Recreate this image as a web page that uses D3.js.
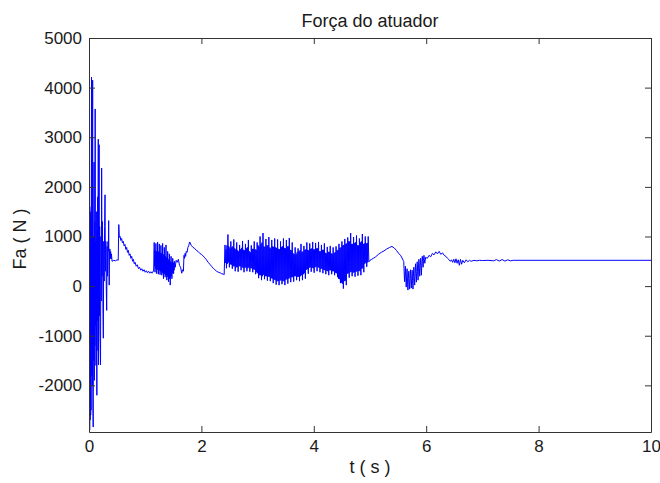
<!DOCTYPE html>
<html>
<head>
<meta charset="utf-8">
<script src="https://cdn.jsdelivr.net/npm/d3@7"></script>
<style>
  body { margin: 0; background: #fff; }
  text { font-family: "Liberation Sans", Arial, sans-serif; fill: #1a1a1a; }
</style>
</head>
<body>
<div id="chart"></div>
<script>
// axis ticks
const xTicks = [0, 2, 4, 6, 8, 10];
const yTicks = [-2000, -1000, 0, 1000, 2000, 3000, 4000, 5000];

// [t (s), Fa (N)], segment by segment
const startup = [
  [0.000, 4740], [0.003, -2940], [0.006, 1670], [0.008, -2800], [0.010, 1200],
  [0.012, -2900], [0.014, 1600], [0.016, -2600], [0.018, 1300], [0.020, -2700],
  [0.022, 1500], [0.025, -2500], [0.027, 1100], [0.030, -2600], [0.032, 1400],
  [0.034, -2300], [0.036, -2500], [0.039, 900], [0.041, 2000], [0.045, 4210],
  [0.048, -1200], [0.050, -1800], [0.053, 900], [0.055, 1200], [0.058, -1700],
  [0.060, -2000], [0.065, 4150], [0.068, -1500], [0.070, -2400], [0.075, -2840],
  [0.078, 800], [0.080, 1000], [0.083, -1200], [0.085, -1500], [0.088, 1500],
  [0.090, 2500], [0.093, -1000], [0.095, -1900], [0.098, 700], [0.100, 1300],
  [0.103, -900], [0.105, -1200], [0.110, 3570], [0.113, -300], [0.115, -800],
  [0.118, 600], [0.120, 900], [0.123, -1100], [0.125, -1600], [0.128, 1000],
  [0.130, 1500], [0.133, -600], [0.135, -1000], [0.140, -2200], [0.145, 1100],
  [0.150, -700], [0.155, 1800], [0.160, -1300], [0.165, 2960], [0.170, -1590],
  [0.175, 800], [0.180, 2850], [0.185, -600], [0.190, 1200], [0.195, -900],
  [0.205, -1590], [0.212, 1000], [0.218, -300], [0.225, 2380], [0.232, 200],
  [0.240, 1300], [0.248, -400], [0.255, -1050], [0.262, 900], [0.270, 100],
  [0.278, 1200], [0.285, 1840], [0.292, 300], [0.300, 900], [0.308, -100],
  [0.315, -490], [0.322, 800], [0.330, 200], [0.338, 900], [0.345, 700],
  [0.350, 1320], [0.355, 400], [0.360, 20], [0.365, 700], [0.372, 750],
  [0.378, 550], [0.385, 700], [0.392, 550], [0.400, 650], [0.410, 500],
  [0.440, 520], [0.470, 510], [0.500, 530], [0.520, 520]
];

const decay = [
  [0.530, 1240], [0.540, 980], [0.555, 1000], [0.565, 920], [0.580, 960],
  [0.595, 870], [0.610, 900], [0.625, 810], [0.640, 840], [0.655, 740],
  [0.670, 780], [0.685, 680], [0.700, 720], [0.715, 620], [0.730, 650],
  [0.745, 560], [0.760, 600], [0.775, 500], [0.790, 540], [0.805, 450],
  [0.820, 480], [0.840, 400], [0.860, 430], [0.880, 350], [0.900, 380],
  [0.920, 320], [0.940, 350], [0.960, 300], [0.980, 330], [1.000, 280],
  [1.020, 310], [1.040, 270], [1.060, 300], [1.080, 260], [1.100, 290],
  [1.120, 260], [1.140, 300]
];

const burstA = [
  [1.150, 300], [1.160, 880], [1.166, 400], [1.170, 720], [1.175, 280], [1.180, 700],
  [1.185, 360], [1.190, 860], [1.196, 350], [1.200, 700], [1.205, 250], [1.210, 690],
  [1.215, 330], [1.220, 890], [1.226, 340], [1.230, 700], [1.235, 240], [1.240, 680],
  [1.245, 320], [1.250, 850], [1.256, 320], [1.260, 680], [1.265, 230], [1.270, 660],
  [1.275, 300], [1.280, 820], [1.286, 300], [1.290, 660], [1.295, 220], [1.300, 650],
  [1.305, 280], [1.310, 860], [1.316, 260], [1.320, 640], [1.325, 150], [1.330, 620],
  [1.335, 250], [1.340, 780], [1.346, 250], [1.350, 600], [1.355, 180], [1.360, 600],
  [1.365, 230], [1.370, 830], [1.376, 220], [1.380, 580], [1.385, 120], [1.390, 560],
  [1.395, 200], [1.400, 700], [1.406, 180], [1.410, 540], [1.415, 90], [1.420, 520],
  [1.425, 170], [1.430, 650], [1.436, 150], [1.440, 500], [1.445, 20], [1.450, 480],
  [1.455, 200], [1.460, 600], [1.466, 210], [1.470, 480], [1.475, 150], [1.480, 470],
  [1.485, 260], [1.490, 560], [1.496, 280], [1.500, 470], [1.505, 250], [1.510, 470],
  [1.515, 320], [1.520, 500], [1.535, 380]
];

const ramp = [
  [1.550, 520], [1.570, 480], [1.590, 540], [1.610, 420], [1.630, 380],
  [1.650, 260], [1.665, 330], [1.680, 300], [1.690, 620], [1.700, 560],
  [1.710, 660], [1.720, 600], [1.730, 700], [1.745, 680], [1.760, 780],
  [1.775, 820], [1.790, 890], [1.800, 870], [1.820, 820], [1.850, 780],
  [1.880, 760], [1.910, 720], [1.940, 700], [1.970, 660], [2.000, 640],
  [2.030, 610], [2.060, 570], [2.090, 530], [2.120, 480], [2.150, 440],
  [2.180, 400], [2.210, 360], [2.240, 330], [2.270, 300], [2.300, 280],
  [2.330, 270], [2.360, 250], [2.390, 240], [2.405, 230]
];

const burstB = [
  [2.420, 830], [2.429, 470], [2.437, 740], [2.446, 360], [2.455, 820], [2.463, 450],
  [2.472, 1040], [2.481, 480], [2.489, 800], [2.498, 380], [2.507, 760], [2.515, 440],
  [2.524, 900], [2.533, 430], [2.541, 780], [2.550, 350], [2.559, 800], [2.567, 400],
  [2.576, 940], [2.585, 400], [2.593, 760], [2.602, 300], [2.611, 740], [2.619, 380],
  [2.628, 880], [2.637, 380], [2.645, 720], [2.654, 290], [2.663, 700], [2.671, 400],
  [2.680, 830], [2.689, 400], [2.697, 740], [2.706, 320], [2.715, 770], [2.723, 380],
  [2.732, 910], [2.741, 370], [2.749, 730], [2.758, 280], [2.767, 720], [2.775, 370],
  [2.784, 850], [2.793, 380], [2.801, 760], [2.810, 300], [2.819, 780], [2.827, 360],
  [2.836, 930], [2.845, 380], [2.853, 700], [2.862, 290], [2.871, 680], [2.879, 360],
  [2.888, 820], [2.897, 360], [2.905, 750], [2.914, 280], [2.923, 750], [2.931, 340],
  [2.940, 900], [2.949, 330], [2.957, 740], [2.966, 240], [2.975, 730], [2.983, 280],
  [2.992, 880], [3.001, 260], [3.009, 820], [3.018, 160], [3.027, 800], [3.035, 220],
  [3.044, 1000], [3.053, 220], [3.061, 850], [3.070, 120], [3.079, 880], [3.087, 200],
  [3.096, 1070], [3.105, 230], [3.113, 800], [3.122, 140], [3.131, 790], [3.139, 200],
  [3.148, 950], [3.157, 200], [3.165, 820], [3.174, 110], [3.183, 820], [3.191, 190],
  [3.200, 990], [3.209, 190], [3.217, 780], [3.226, 100], [3.235, 760], [3.243, 160],
  [3.252, 930], [3.261, 150], [3.269, 800], [3.278, 60], [3.287, 790], [3.295, 130],
  [3.304, 960], [3.313, 120], [3.321, 780], [3.330, 30], [3.339, 770], [3.347, 100],
  [3.356, 940], [3.365, 100], [3.373, 750], [3.382, 20], [3.391, 740], [3.399, 110],
  [3.408, 900], [3.417, 120], [3.425, 790], [3.434, 40], [3.443, 800], [3.451, 100],
  [3.460, 960], [3.469, 100], [3.477, 770], [3.486, 20], [3.495, 760], [3.503, 130],
  [3.512, 930], [3.521, 140], [3.529, 800], [3.538, 50], [3.547, 800], [3.555, 150],
  [3.564, 970], [3.573, 170], [3.581, 730], [3.590, 80], [3.599, 720], [3.607, 180],
  [3.616, 880], [3.625, 180], [3.633, 660], [3.642, 90], [3.651, 640], [3.659, 200],
  [3.668, 780], [3.677, 200], [3.685, 640], [3.694, 120], [3.703, 680], [3.711, 190],
  [3.720, 760], [3.729, 190], [3.737, 700], [3.746, 100], [3.755, 720], [3.763, 200],
  [3.772, 850], [3.781, 220], [3.789, 680], [3.798, 120], [3.807, 700], [3.815, 240],
  [3.824, 810], [3.833, 260], [3.841, 730], [3.850, 150], [3.859, 740], [3.867, 330],
  [3.876, 880], [3.885, 340], [3.893, 730], [3.902, 250], [3.911, 720], [3.919, 370],
  [3.928, 860], [3.937, 380], [3.945, 750], [3.954, 290], [3.963, 760], [3.971, 370],
  [3.980, 890], [3.989, 360], [3.997, 740], [4.006, 270], [4.015, 740], [4.023, 380],
  [4.032, 870], [4.041, 390], [4.049, 760], [4.058, 300], [4.067, 760], [4.075, 380],
  [4.084, 890], [4.093, 370], [4.101, 700], [4.110, 280], [4.119, 700], [4.127, 350],
  [4.136, 830], [4.145, 350], [4.153, 730], [4.162, 260], [4.171, 730], [4.179, 330],
  [4.188, 860], [4.197, 320], [4.205, 670], [4.214, 240], [4.223, 660], [4.231, 310],
  [4.240, 790], [4.249, 300], [4.257, 690], [4.266, 220], [4.275, 690], [4.283, 320],
  [4.292, 810], [4.301, 320], [4.309, 660], [4.318, 240], [4.327, 650], [4.335, 300],
  [4.344, 780], [4.353, 300], [4.361, 670], [4.370, 220], [4.379, 680], [4.387, 270],
  [4.396, 800], [4.405, 260], [4.413, 720], [4.422, 180], [4.431, 730], [4.439, 150],
  [4.448, 850], [4.457, 140], [4.465, 770], [4.474, 60], [4.483, 780], [4.491, 70],
  [4.500, 900], [4.509, 50], [4.517, 820], [4.526, -50], [4.535, 830], [4.543, 100],
  [4.552, 950], [4.561, 110], [4.569, 850], [4.578, 20], [4.587, 860], [4.595, 250],
  [4.604, 980], [4.613, 260], [4.621, 900], [4.630, 170], [4.639, 900], [4.647, 280],
  [4.656, 1070], [4.665, 290], [4.673, 850], [4.682, 200], [4.691, 850], [4.699, 270],
  [4.708, 990], [4.717, 280], [4.725, 870], [4.734, 190], [4.743, 880], [4.751, 290],
  [4.760, 1020], [4.769, 300], [4.777, 820], [4.786, 210], [4.795, 820], [4.803, 300],
  [4.812, 960], [4.821, 310], [4.829, 880], [4.838, 220], [4.847, 900], [4.855, 350],
  [4.864, 1050], [4.873, 360], [4.881, 850], [4.890, 280], [4.899, 860], [4.907, 450],
  [4.916, 1000], [4.925, 470], [4.933, 860], [4.942, 390], [4.951, 870], [4.959, 480],
  [4.968, 1000], [4.980, 490]
];

const hump = [
  [5.000, 520], [5.030, 540], [5.060, 560], [5.100, 590], [5.150, 640],
  [5.200, 680], [5.250, 710], [5.300, 750], [5.350, 780], [5.390, 800],
  [5.430, 770], [5.470, 720], [5.510, 660], [5.550, 610], [5.590, 520]
];

const dip = [
  [5.600, 500], [5.607, 300], [5.615, 90], [5.622, 250], [5.630, 400], [5.637, 150],
  [5.645, -20], [5.652, 200], [5.660, 350], [5.667, 100], [5.675, -80], [5.682, 150],
  [5.690, 300], [5.697, 100], [5.705, -60], [5.712, 150], [5.720, 330], [5.727, 120],
  [5.735, -40], [5.742, 150], [5.750, 320], [5.757, 120], [5.765, -60], [5.772, 200],
  [5.780, 380], [5.787, 180], [5.795, 20], [5.802, 250], [5.810, 450], [5.817, 250],
  [5.825, 80], [5.832, 300], [5.840, 490], [5.847, 300], [5.855, 120], [5.862, 350],
  [5.870, 540], [5.877, 380], [5.885, 200], [5.892, 400], [5.900, 560], [5.907, 400],
  [5.915, 220], [5.922, 450], [5.930, 600], [5.937, 500], [5.945, 380], [5.952, 520],
  [5.960, 620], [5.967, 540], [5.975, 460], [5.990, 580]
];

const settle = [
  [6.020, 560], [6.050, 620], [6.080, 590], [6.110, 660], [6.140, 630],
  [6.170, 690], [6.200, 650], [6.230, 700], [6.260, 640], [6.290, 670],
  [6.320, 620], [6.350, 600], [6.380, 560], [6.400, 540], [6.430, 500],
  [6.450, 530], [6.470, 480], [6.490, 540], [6.510, 470], [6.530, 550],
  [6.550, 460], [6.570, 530], [6.590, 420], [6.610, 540], [6.630, 440],
  [6.650, 520], [6.680, 470], [6.710, 530], [6.740, 490], [6.770, 520],
  [6.800, 500], [6.850, 520], [6.900, 510], [6.950, 520], [7.000, 515],
  [7.100, 520], [7.200, 510], [7.250, 535], [7.300, 505], [7.350, 535],
  [7.400, 505], [7.450, 530], [7.500, 510], [7.550, 520], [10.000, 520]
];

const series = [].concat(startup, decay, burstA, ramp, burstB, hump, dip, settle);

const width = 660, height = 483;
const margin = { top: 38, right: 9, bottom: 51, left: 89 };
const plotW = width - margin.left - margin.right;
const plotH = height - margin.top - margin.bottom;

const svg = d3.select('#chart').append('svg')
  .attr('width', width)
  .attr('height', height)
  .style('background', '#fff');

const x = d3.scaleLinear().domain([0, 10]).range([0, plotW]);
const y = d3.scaleLinear().domain([-2940, 5000]).range([plotH, 0]);

const g = svg.append('g').attr('transform', `translate(${margin.left},${margin.top})`);

svg.append('defs').append('clipPath').attr('id', 'clip')
  .append('rect').attr('width', plotW).attr('height', plotH);

// the force trace
const line = d3.line().x(d => x(d[0])).y(d => y(d[1]));
g.append('path')
  .datum(series)
  .attr('clip-path', 'url(#clip)')
  .attr('fill', 'none')
  .attr('stroke', '#0000ff')
  .attr('stroke-width', 1)
  .attr('d', line);

// box with inward ticks on all four sides
function styleAxis(sel) {
  sel.selectAll('path, line').attr('stroke', '#333');
  sel.selectAll('text').style('font-size', '17px').attr('fill', '#1a1a1a');
}

const fmt = d => String(d); // plain hyphen minus, like the original

g.append('g').attr('transform', `translate(0,${plotH})`)
  .call(d3.axisBottom(x).tickValues(xTicks).tickFormat(fmt).tickSize(-6).tickSizeOuter(0).tickPadding(8))
  .call(styleAxis);
g.append('g')
  .call(d3.axisTop(x).tickValues(xTicks).tickSize(-6).tickSizeOuter(0).tickFormat(''))
  .call(styleAxis);
g.append('g')
  .call(d3.axisLeft(y).tickValues(yTicks).tickFormat(fmt).tickSize(-6).tickSizeOuter(0).tickPadding(7))
  .call(styleAxis);
g.append('g').attr('transform', `translate(${plotW},0)`)
  .call(d3.axisRight(y).tickValues(yTicks).tickSize(-6).tickSizeOuter(0).tickFormat(''))
  .call(styleAxis);

// titles
svg.append('text')
  .attr('x', margin.left + plotW / 2)
  .attr('y', 27)
  .attr('text-anchor', 'middle')
  .style('font-size', '18px')
  .text('Força do atuador');

svg.append('text')
  .attr('x', margin.left + plotW / 2)
  .attr('y', 473)
  .attr('text-anchor', 'middle')
  .style('font-size', '18px')
  .text('t ( s )');

svg.append('text')
  .attr('transform', `translate(26,${margin.top + plotH / 2 + 4}) rotate(-90)`)
  .attr('text-anchor', 'middle')
  .style('font-size', '18px')
  .text('Fa ( N )');
</script>
</body>
</html>
